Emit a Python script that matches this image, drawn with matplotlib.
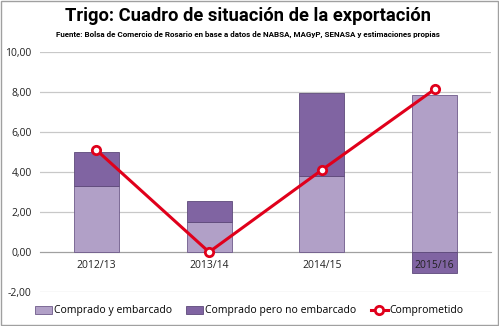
import matplotlib.pyplot as plt
import numpy as np
from matplotlib.patches import Rectangle

# Trigo: situación de la exportación por campaña (millones de t)
campanias = ["2012/13", "2013/14", "2014/15", "2015/16"]
embarcado = [3.3, 1.52, 3.82, 7.85]
no_embarcado = [1.7, 1.01, 4.11, -1.03]
comprometido = [5.1, 0.0, 4.1, 8.13]

color_claro = "#B1A0C7"
color_oscuro = "#8064A2"
color_rojo = "#E0001B"

plt.rcParams["font.family"] = ["Open Sans", "DejaVu Sans"]

fig = plt.figure(figsize=(4.99, 3.26), dpi=100)
ax = fig.add_axes([0.080, 0.104, 0.904, 0.737])

x = np.arange(len(campanias))
ancho = 0.4

b1 = ax.bar(x, embarcado, ancho, color=color_claro, edgecolor="#6E5A8A", linewidth=0.6,
            label="Comprado y embarcado", zorder=2)
base_oscuro = [e if n >= 0 else 0 for e, n in zip(embarcado, no_embarcado)]
b2 = ax.bar(x, no_embarcado, ancho, bottom=base_oscuro, color=color_oscuro, edgecolor="#5E4A7A",
            linewidth=0.6, label="Comprado pero no embarcado", zorder=2)
l1, = ax.plot(x, comprometido, color=color_rojo, linewidth=2.2, marker="o", markersize=6,
              markerfacecolor="white", markeredgecolor=color_rojo, markeredgewidth=2,
              label="Comprometido", zorder=3)

ax.set_xlim(-0.5, len(campanias) - 0.5)
ax.set_ylim(-2, 10)
ax.set_yticks(np.arange(-2, 11, 2))
ax.set_yticklabels([f"{v:,.2f}".replace(".", ",") for v in np.arange(-2, 11, 2)],
                   fontsize=7.5, color="#222222")
ax.grid(axis="y", color="#C8C8C8", linewidth=0.9)
ax.yaxis.set_zorder(0.5)
ax.xaxis.set_zorder(5)
for s in ["top", "right", "left"]:
    ax.spines[s].set_visible(False)
ax.spines["bottom"].set_position(("data", 0))
ax.spines["bottom"].set_color("#A0A0A0")
ax.spines["bottom"].set_zorder(1)
ax.tick_params(axis="y", length=0, pad=6)
ax.tick_params(axis="x", length=0, pad=6)
ax.set_xticks(x)
ax.set_xticklabels(campanias, fontsize=7.5, color="#222222")

fig.text(0.497, 0.950, "Trigo: Cuadro de situación de la exportación", ha="center", va="center",
         fontsize=13.2, fontweight="bold", family=["Roboto", "DejaVu Sans"])
fig.text(0.497, 0.893, "Fuente: Bolsa de Comercio de Rosario en base a datos de NABSA, MAGyP, SENASA y estimaciones propias",
         ha="center", va="center", fontsize=5.75, fontweight="bold", family=["Roboto", "DejaVu Sans"])

fig.legend(handles=[b1, b2, l1], loc="center", bbox_to_anchor=(0.5, 1 - 311 / 326), ncol=3,
           frameon=False, fontsize=7.5, handlelength=1.6, handleheight=0.7, handletextpad=0.2,
           columnspacing=1.4)

fig.patches.append(Rectangle((0.002, 0.003), 0.995, 0.993, transform=fig.transFigure,
                             fill=False, edgecolor="#A0A0A0", linewidth=1.0))

plt.savefig("out.png", dpi=100)
